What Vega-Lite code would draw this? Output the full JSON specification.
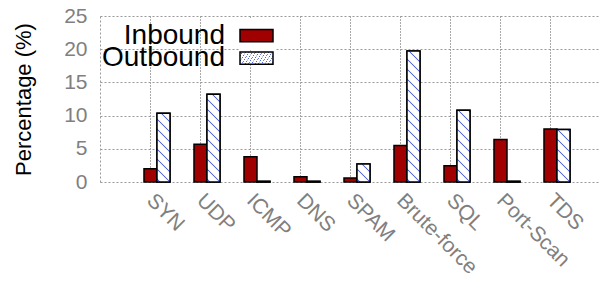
{
  "$schema": "https://vega.github.io/schema/vega-lite/v6.json",
  "width": 498,
  "height": 166,
  "autosize": {"type": "none"},
  "padding": {"left": 100, "top": 16, "right": 1, "bottom": 103},
  "background": "white",
  "config": {
    "view": {"stroke": null},
    "font": "Liberation Sans",
    "legend": {
      "labelFontSize": 28, "labelColor": "black", "labelAlign": "right", "labelOffset": -49, "labelLimit": 0,
      "symbolType": "M-1,-0.37H1V0.37H-1Z", "symbolSize": 1089,
      "symbolStrokeColor": "black", "symbolStrokeWidth": 1.5, "symbolOpacity": 1,
      "padding": 0
    }
  },
  "params": [
    {"name": "hs", "value": [
      {"offset": 0, "color": "#ffffff"},
      {"offset": 0.0095, "color": "#ffffff"}, {"offset": 0.0125, "color": "#5468dc"}, {"offset": 0.0175, "color": "#5468dc"}, {"offset": 0.0205, "color": "#ffffff"},
      {"offset": 0.0595, "color": "#ffffff"}, {"offset": 0.0625, "color": "#5468dc"}, {"offset": 0.0675, "color": "#5468dc"}, {"offset": 0.0705, "color": "#ffffff"},
      {"offset": 0.1095, "color": "#ffffff"}, {"offset": 0.1125, "color": "#5468dc"}, {"offset": 0.1175, "color": "#5468dc"}, {"offset": 0.1205, "color": "#ffffff"},
      {"offset": 0.1595, "color": "#ffffff"}, {"offset": 0.1625, "color": "#5468dc"}, {"offset": 0.1675, "color": "#5468dc"}, {"offset": 0.1705, "color": "#ffffff"},
      {"offset": 0.2095, "color": "#ffffff"}, {"offset": 0.2125, "color": "#5468dc"}, {"offset": 0.2175, "color": "#5468dc"}, {"offset": 0.2205, "color": "#ffffff"},
      {"offset": 0.2595, "color": "#ffffff"}, {"offset": 0.2625, "color": "#5468dc"}, {"offset": 0.2675, "color": "#5468dc"}, {"offset": 0.2705, "color": "#ffffff"},
      {"offset": 0.3095, "color": "#ffffff"}, {"offset": 0.3125, "color": "#5468dc"}, {"offset": 0.3175, "color": "#5468dc"}, {"offset": 0.3205, "color": "#ffffff"},
      {"offset": 0.3595, "color": "#ffffff"}, {"offset": 0.3625, "color": "#5468dc"}, {"offset": 0.3675, "color": "#5468dc"}, {"offset": 0.3705, "color": "#ffffff"},
      {"offset": 0.4095, "color": "#ffffff"}, {"offset": 0.4125, "color": "#5468dc"}, {"offset": 0.4175, "color": "#5468dc"}, {"offset": 0.4205, "color": "#ffffff"},
      {"offset": 0.4595, "color": "#ffffff"}, {"offset": 0.4625, "color": "#5468dc"}, {"offset": 0.4675, "color": "#5468dc"}, {"offset": 0.4705, "color": "#ffffff"},
      {"offset": 0.5095, "color": "#ffffff"}, {"offset": 0.5125, "color": "#5468dc"}, {"offset": 0.5175, "color": "#5468dc"}, {"offset": 0.5205, "color": "#ffffff"},
      {"offset": 0.5595, "color": "#ffffff"}, {"offset": 0.5625, "color": "#5468dc"}, {"offset": 0.5675, "color": "#5468dc"}, {"offset": 0.5705, "color": "#ffffff"},
      {"offset": 0.6095, "color": "#ffffff"}, {"offset": 0.6125, "color": "#5468dc"}, {"offset": 0.6175, "color": "#5468dc"}, {"offset": 0.6205, "color": "#ffffff"},
      {"offset": 0.6595, "color": "#ffffff"}, {"offset": 0.6625, "color": "#5468dc"}, {"offset": 0.6675, "color": "#5468dc"}, {"offset": 0.6705, "color": "#ffffff"},
      {"offset": 0.7095, "color": "#ffffff"}, {"offset": 0.7125, "color": "#5468dc"}, {"offset": 0.7175, "color": "#5468dc"}, {"offset": 0.7205, "color": "#ffffff"},
      {"offset": 0.7595, "color": "#ffffff"}, {"offset": 0.7625, "color": "#5468dc"}, {"offset": 0.7675, "color": "#5468dc"}, {"offset": 0.7705, "color": "#ffffff"},
      {"offset": 0.8095, "color": "#ffffff"}, {"offset": 0.8125, "color": "#5468dc"}, {"offset": 0.8175, "color": "#5468dc"}, {"offset": 0.8205, "color": "#ffffff"},
      {"offset": 0.8595, "color": "#ffffff"}, {"offset": 0.8625, "color": "#5468dc"}, {"offset": 0.8675, "color": "#5468dc"}, {"offset": 0.8705, "color": "#ffffff"},
      {"offset": 0.9095, "color": "#ffffff"}, {"offset": 0.9125, "color": "#5468dc"}, {"offset": 0.9175, "color": "#5468dc"}, {"offset": 0.9205, "color": "#ffffff"},
      {"offset": 0.9595, "color": "#ffffff"}, {"offset": 0.9625, "color": "#5468dc"}, {"offset": 0.9675, "color": "#5468dc"}, {"offset": 0.9705, "color": "#ffffff"},
      {"offset": 1, "color": "#ffffff"}
    ]}
  ],
  "data": {"values": [
    {"category": "SYN", "type": "Inbound", "value": 2.0},
    {"category": "SYN", "type": "Outbound", "value": 10.35},
    {"category": "UDP", "type": "Inbound", "value": 5.7},
    {"category": "UDP", "type": "Outbound", "value": 13.2},
    {"category": "ICMP", "type": "Inbound", "value": 3.8},
    {"category": "ICMP", "type": "Outbound", "value": 0.1},
    {"category": "DNS", "type": "Inbound", "value": 0.8},
    {"category": "DNS", "type": "Outbound", "value": 0.1},
    {"category": "SPAM", "type": "Inbound", "value": 0.6},
    {"category": "SPAM", "type": "Outbound", "value": 2.7},
    {"category": "Brute-force", "type": "Inbound", "value": 5.5},
    {"category": "Brute-force", "type": "Outbound", "value": 19.73},
    {"category": "SQL", "type": "Inbound", "value": 2.45},
    {"category": "SQL", "type": "Outbound", "value": 10.8},
    {"category": "Port-Scan", "type": "Inbound", "value": 6.4},
    {"category": "Port-Scan", "type": "Outbound", "value": 0.1},
    {"category": "TDS", "type": "Inbound", "value": 8.0},
    {"category": "TDS", "type": "Outbound", "value": 7.9}
  ]},
  "encoding": {
    "x": {
      "field": "category", "type": "nominal",
      "sort": ["SYN", "UDP", "ICMP", "DNS", "SPAM", "Brute-force", "SQL", "Port-Scan", "TDS"],
      "scale": {"paddingInner": 0.48, "paddingOuter": 0.72, "align": 0.611},
      "axis": {
        "title": null, "ticks": false, "tickSize": 0, "domain": false,
        "labelAngle": 45, "labelAlign": "left", "labelBaseline": "middle",
        "labelPadding": 15, "labelOffset": -7, "labelFontSize": 21, "labelColor": "#808080",
        "labelLimit": 0, "labelOverlap": false,
        "grid": true, "gridColor": "#555555", "gridDash": [1, 2], "gridWidth": 1,
        "bandPosition": 0.25
      }
    },
    "xOffset": {"field": "type", "type": "nominal", "scale": {"domain": ["Inbound", "Outbound"], "paddingInner": 0, "paddingOuter": 0}},
    "y": {
      "field": "value", "type": "quantitative",
      "scale": {"domain": [0, 25], "nice": false},
      "axis": {
        "title": "Percentage (%)", "values": [0, 5, 10, 15, 20, 25],
        "ticks": false, "tickSize": 0, "labelPadding": 13, "labelOverlap": false,
        "labelFontSize": 21, "labelColor": "#808080",
        "grid": true, "gridColor": "#999999", "gridDash": [2, 2], "gridWidth": 1,
        "domain": true, "domainColor": "#999999", "domainDash": [2, 2], "domainWidth": 1,
        "titleFontSize": 22, "titleFontWeight": "normal", "titleColor": "black",
        "titleX": -77, "titleY": 83, "titleAngle": -90, "titleAlign": "center", "titleBaseline": "middle"
      }
    }
  },
  "layer": [
    {
      "mark": {"type": "bar", "stroke": "black", "strokeWidth": 1.5},
      "encoding": {
        "fill": {
          "field": "type", "type": "nominal",
          "scale": {"domain": ["Inbound", "Outbound"], "range": ["#a00000", "#ffffff"]},
          "legend": {
            "title": null, "orient": "none", "legendX": 139, "legendY": 2.2,
            "values": ["Inbound"], "fillColor": "white", "zindex": 1,
            "encode": {"symbols": {"update": {
              "stroke": {"value": "black"}, "strokeWidth": {"value": 1.5}, "opacity": {"value": 1}
            }}}
          }
        }
      }
    },
    {
      "transform": [{"filter": "datum.type === 'Outbound'"}],
      "mark": {
        "type": "bar", "strokeWidth": 1.5,
        "fill": {"expr": "{gradient: 'linear', x1: 0, y1: 1, x2: 200 * bandwidth('xOffset') / (pow(bandwidth('xOffset'), 2) + pow(scale('y', 0) - scale('y', datum.value), 2)), y2: 1 - 200 * (scale('y', 0) - scale('y', datum.value)) / (pow(bandwidth('xOffset'), 2) + pow(scale('y', 0) - scale('y', datum.value), 2)), stops: hs}"}
      },
      "encoding": {
        "stroke": {
          "field": "type", "type": "nominal",
          "scale": {"domain": ["Outbound"], "range": ["black"]},
          "legend": {
            "title": null, "orient": "none", "legendX": 139, "legendY": 24.7, "zindex": 2,
            "encode": {"symbols": {"update": {
              "fill": {"signal": "{gradient: 'linear', x1: 0, y1: 1, x2: 5.331, y2: -0.9725, stops: hs}"},
              "stroke": {"value": "black"}, "strokeWidth": {"value": 1.5}, "opacity": {"value": 1}, "fillOpacity": {"value": 1}
            }}}
          }
        }
      }
    }
  ]
}
